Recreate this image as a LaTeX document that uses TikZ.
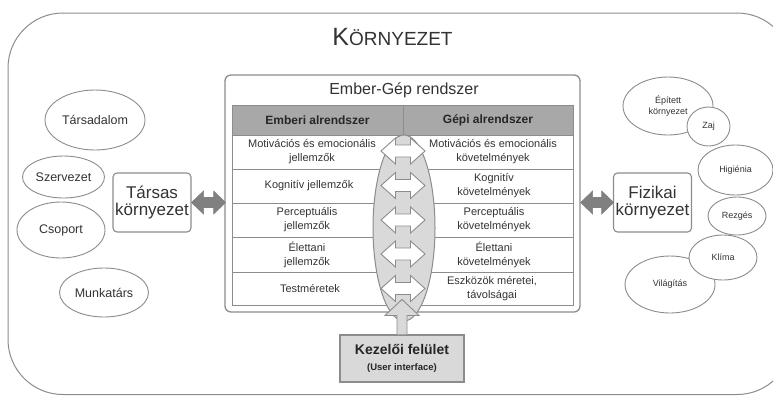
\documentclass[tikz,border=0pt]{standalone}
\usepackage{fontspec}
\setmainfont{Liberation Sans}
\usetikzlibrary{shapes.geometric,calc}
\definecolor{lg}{HTML}{8C8C8C}
\definecolor{txt}{HTML}{333333}
\definecolor{headfill}{HTML}{A8A8A8}
\definecolor{lensfill}{HTML}{D9D9D9}
\definecolor{darkarr}{HTML}{808080}
% #1 start (left tip), #2 length, #3 head length, #4 head half height, #5 shaft half height, #6 style
\newcommand\dblarr[6]{%
  \draw[#6] (#1) -- ++(#3,-#4) -- ++(0,#4-#5) -- ++(#2-2*#3,0) -- ++(0,-#4+#5)
    -- ++(#3,#4) -- ++(-#3,#4) -- ++(0,-#4+#5) -- ++(-#2+2*#3,0) -- ++(0,#4-#5) -- cycle;}
\begin{document}
\begin{tikzpicture}[x=1pt,y=-1pt,
  every node/.style={text=txt, inner sep=0pt, align=center},
  gline/.style={draw=lg, line width=1pt},
  bubble/.style={ellipse, draw=lg, line width=0.9pt, fill=white},
  lbub/.style={bubble, font=\fontsize{12.5}{14}\selectfont},
  rbub/.style={bubble, font=\fontsize{9}{11}\selectfont},
  sidebox/.style={draw=lg, line width=1.1pt, rounded corners=4pt, fill=white,
     minimum width=78pt, minimum height=59pt, font=\fontsize{17}{17}\selectfont},
  celltxt/.style={font=\fontsize{11}{14}\selectfont},
  headtxt/.style={text=black!85, font=\fontsize{12}{14}\selectfont\bfseries},
  rowarr/.style={draw=lg, line width=0.9pt, fill=white},
  sidearr/.style={draw=darkarr, line width=0.6pt, fill=darkarr},
]
\useasboundingbox (0,0) rectangle (773,397);
\begin{scope}
  \clip (0,0) rectangle (773,397);
  \draw[gline, rounded corners=55pt] (8,13) rectangle (792,394.5);
\end{scope}
\node[anchor=base] (korny) at (392.5,45)
  {{\fontsize{25}{25}\selectfont K}{\fontsize{19}{19}\selectfont ÖRNYEZET}};

% Ember-Gep system box
\node[draw=lg, line width=1.3pt, rounded corners=6pt, fill=white,
      minimum width=355pt, minimum height=237pt] (egr) at (402.5,193.5) {};
\node[anchor=base, font=\fontsize{16}{16}\selectfont] (egrt) at (404,94) {Ember-Gép rendszer};

% table
\fill[headfill] (232,105) rectangle (573,135);
\draw[gline] (232,105) rectangle (573,305);
\foreach \yy in {135,169,203,237,272} \draw[gline] (232,\yy) -- (573,\yy);
\draw[gline] (403,105) -- (403,305);
\node[headtxt] (hl) at (317.5,120) {Emberi alrendszer};
\node[headtxt] (hr) at (488,120) {Gépi alrendszer};

\node[celltxt] (l1) at (312,152) {Motivációs és emocionális\\jellemzők};
\node[celltxt] (l2) at (309,186) {Kognitív jellemzők};
\node[celltxt] (l3) at (307,220) {Perceptuális\\jellemzők};
\node[celltxt] (l4) at (307,254.5) {Élettani\\jellemzők};
\node[celltxt] (l5) at (310,288.5) {Testméretek};
\node[celltxt] (r1) at (493,152) {Motivációs és emocionális\\követelmények};
\node[celltxt] (r2) at (494,186) {Kognitív\\követelmények};
\node[celltxt] (r3) at (494,220) {Perceptuális\\követelmények};
\node[celltxt] (r4) at (494,254.5) {Élettani\\követelmények};
\node[celltxt] (r5) at (492,288.5) {Eszközök méretei,\\távolságai};

% lens
\node[ellipse, draw=lg, line width=1pt, fill=lensfill, minimum width=62pt,
      minimum height=186pt] (lens) at (404,228) {};

% Kezeloi felulet
\node[draw=lg, line width=1.1pt, fill=lensfill, minimum width=124pt,
      minimum height=47pt] (kez) at (402,358.5) {};
\node[anchor=base, text=black!85, font=\fontsize{14}{14}\selectfont\bfseries] (kez1) at (402,354) {Kezelői felület};
\node[anchor=base, text=black!85, font=\fontsize{9.5}{10}\selectfont\bfseries] (kez2) at (402,370.5) {(User interface)};

% up arrow from Kezeloi felulet into the lens
\draw[draw=lg, line width=0.9pt, fill=lensfill]
  ($(kez.north)+(-5,0)$) -- ++(0,-19) -- ++(-12,0) -- ++(17,-16) -- ++(17,16)
  -- ++(-12,0) -- ++(0,19);

% row double arrows
\foreach \yy [count=\i] in {151,185.5,220,254,288.5} {
  \coordinate (ra\i) at (381,\yy);
  \dblarr{ra\i}{44}{14.5}{13}{6}{rowarr}
}

% side boxes
\node[sidebox] (tarsas) at (152,202.5) {Társas\\környezet};
\node[sidebox] (fiz) at (652.5,202.5) {Fizikai\\környezet};
\coordinate (la) at (tarsas.east);
\coordinate (ra) at ($(egr.east)+(0,9)$);
\dblarr{la}{34}{12}{11.5}{5}{sidearr}
\dblarr{ra}{33}{12}{11.5}{5}{sidearr}

% left bubbles
\node[lbub, minimum width=100pt, minimum height=60pt] (b1) at (95,120) {Társadalom};
\node[lbub, minimum width=82pt, minimum height=42pt] (b2) at (63.5,177) {Szervezet};
\node[lbub, minimum width=88pt, minimum height=56pt] (b3) at (61,230) {Csoport};
\node[lbub, minimum width=89pt, minimum height=49pt] (b4) at (104,292.5) {Munkatárs};

% right bubbles
\node[rbub, minimum width=90pt, minimum height=58pt] (p1) at (668,106) {Épített\\környezet};
\node[rbub, minimum width=43pt, minimum height=39pt] (p2) at (708.5,126.5) {Zaj};
\node[rbub, minimum width=75pt, minimum height=50pt] (p3) at (735.5,170) {Higiénia};
\node[rbub, minimum width=58pt, minimum height=38pt] (p4) at (737,216) {Rezgés};
\node[rbub, minimum width=90pt, minimum height=57pt] (p6) at (670,284.5) {Világítás};
\node[rbub, minimum width=68pt, minimum height=45pt] (p5) at (723,257.5) {Klíma};
\end{tikzpicture}
\end{document}
